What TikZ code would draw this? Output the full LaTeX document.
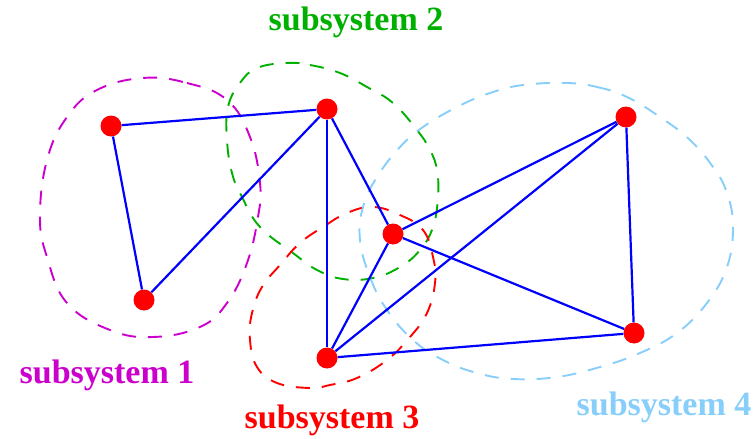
\documentclass[tikz,border=0pt]{standalone}
\usepackage{fontspec}
\setmainfont{Liberation Serif}
\definecolor{cmag}{RGB}{204,0,204}
\definecolor{cgreen}{RGB}{0,176,0}
\definecolor{cred}{RGB}{255,0,0}
\definecolor{clblue}{RGB}{135,206,250}
\definecolor{cblue}{RGB}{0,0,255}
\begin{document}
\begin{tikzpicture}[x=1pt,y=-1pt,
  blob/.style={line width=1.9pt,dash pattern=on 14pt off 12pt},
  dot/.style={circle,fill=cred,inner sep=0pt,minimum size=21pt},
  edge/.style={cblue,line width=2.2pt},
  lbl/.style={font=\fontsize{34}{40}\selectfont\bfseries,inner sep=0pt}]
\useasboundingbox (0,0) rectangle (756,439);
% blobs
\draw[blob,cmag] plot[smooth cycle,tension=0.7] coordinates {(143,78) (187,83) (227,100) (250,137) (260,183) (258,217) (247,263) (227,303) (200,327) (153,337) (110,330) (67,303) (47,257) (40,217) (47,160) (67,117) (97,90)};
\draw[blob,cgreen] plot[smooth cycle,tension=0.7] coordinates {(287,63) (310,65) (340,73) (367,87) (393,103) (417,130) (430,150) (437,170) (438,197) (433,227) (420,250) (400,267) (373,278) (343,279) (317,270) (293,253) (260,227) (242,197) (232,173) (227,140) (228,107) (240,83) (257,68)};
\draw[blob,cred] plot[smooth cycle,tension=0.7] coordinates {(373,207) (400,215) (423,230) (433,257) (435,283) (427,313) (410,337) (387,360) (357,378) (330,385) (310,388) (277,383) (257,367) (250,340) (252,313) (262,287) (280,265) (300,243) (323,227) (347,213)};
\draw[blob,clblue] plot[smooth cycle,tension=0.7] coordinates {(567,83) (597,87) (627,97) (660,117) (690,140) (713,167) (727,193) (733,227) (727,267) (707,303) (677,333) (640,353) (600,367) (557,377) (513,379) (477,373) (443,360) (413,340) (387,310) (370,277) (360,240) (363,207) (377,177) (400,147) (423,127) (457,107) (490,93) (523,85)};
% nodes
\node[dot] (A) at (111,126) {};
\node[dot] (B) at (327,109) {};
\node[dot] (C) at (393,234) {};
\node[dot] (D) at (626,117) {};
\node[dot] (E) at (144,300) {};
\node[dot] (F) at (327,358) {};
\node[dot] (G) at (634,333) {};
% edges
\draw[edge] (A) -- (B);
\draw[edge] (A) -- (E);
\draw[edge] (E) -- (B);
\draw[edge] (B) -- (F);
\draw[edge] (B) -- (C);
\draw[edge] (C) -- (F);
\draw[edge] (C) -- (D);
\draw[edge] (C) -- (G);
\draw[edge] (F) -- (D);
\draw[edge] (F) -- (G);
\draw[edge] (D) -- (G);
% labels
\node[lbl,text=cmag] (l1) at (107,375) {subsystem 1};
\node[lbl,text=cgreen] (l2) at (356,22) {subsystem 2};
\node[lbl,text=cred] (l3) at (332,420) {subsystem 3};
\node[lbl,text=clblue] (l4) at (664,407) {subsystem 4};
\end{tikzpicture}
\end{document}
